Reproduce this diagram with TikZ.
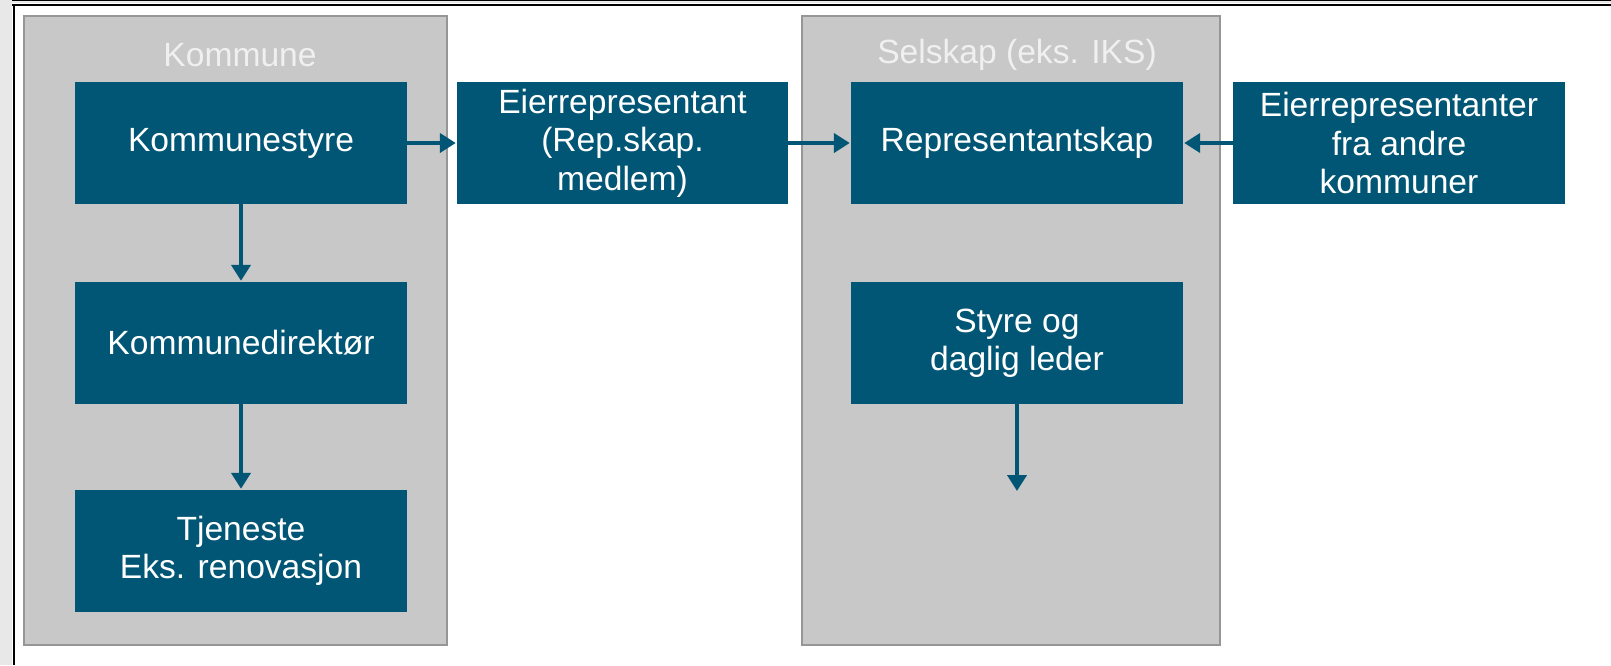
\documentclass[tikz,border=0pt]{standalone}
\usepackage{fontspec}
\setmainfont{Liberation Sans}
\usetikzlibrary{arrows.meta}
\definecolor{teal1}{RGB}{2,86,117}
\definecolor{panelgrey}{RGB}{200,200,200}
\definecolor{panelborder}{RGB}{150,150,150}
\definecolor{outgrey}{RGB}{232,232,232}
\definecolor{titlegrey}{RGB}{240,240,240}
\begin{document}
\begin{tikzpicture}[x=1pt,y=-1pt,
  panel/.style={fill=panelgrey,draw=panelborder,line width=1.5pt},
  box/.style={fill=teal1,draw=none,text=white,font=\fontsize{33.6}{38.5}\selectfont,align=center,inner sep=0pt},
  ptitle/.style={text=titlegrey,font=\fontsize{33.6}{38.5}\selectfont,inner sep=0pt},
  arr/.style={draw=teal1,line width=4pt,-{Triangle[length=16pt,width=19pt]},shorten >=1pt}]
\useasboundingbox (0,0) rectangle (1611,665);
\fill[white] (0,0) rectangle (1611,665);
\fill[outgrey] (0,0) rectangle (12,665);
\fill[outgrey] (0,0) rectangle (1611,3);
\draw[black,line width=0.8pt] (12,0.4) -- (1611,0.4);
\draw[black,line width=2pt] (12,5) -- (1611,5);
\draw[black,line width=2pt] (13.5,5) -- (13.5,665);
% panels
\path[panel] (24,16) rectangle (447,645);
\path[panel] (802,16) rectangle (1220,645);
\node[ptitle] (t1) at (240,55) {Kommune};
\node[ptitle] (t2) at (1017,55) {Selskap (eks. IKS)};
% boxes
\node[box,minimum width=332pt,minimum height=122pt] (ks) at (241,143) {Kommunestyre};
\node[box,minimum width=332pt,minimum height=122pt] (kd) at (241,343) {Kommunedirektør};
\node[box,minimum width=332pt,minimum height=122pt] (tj) at (241,551) {Tjeneste\\Eks. renovasjon};
\node[box,minimum width=331pt,minimum height=122pt] (er) at (622.5,143) {Eierrepresentant\\(Rep.skap.\\medlem)};
\node[box,minimum width=332pt,minimum height=122pt] (rs) at (1017,143) {Representantskap};
\node[box,minimum width=332pt,minimum height=122pt] (sd) at (1017,343) {Styre og\\daglig leder};
\node[box,minimum width=332pt,minimum height=122pt] (ea) at (1399,143) {Eierrepresentanter\\fra andre\\kommuner};
\coordinate (end) at (1017,492);
% arrows
\draw[arr] (ks.east) -- (er.west);
\draw[arr] (er.east) -- (rs.west);
\draw[arr] (ea.west) -- (rs.east);
\draw[arr] (ks.south) -- (kd.north);
\draw[arr] (kd.south) -- (tj.north);
\draw[arr] (sd.south) -- (end);
\end{tikzpicture}
\end{document}
